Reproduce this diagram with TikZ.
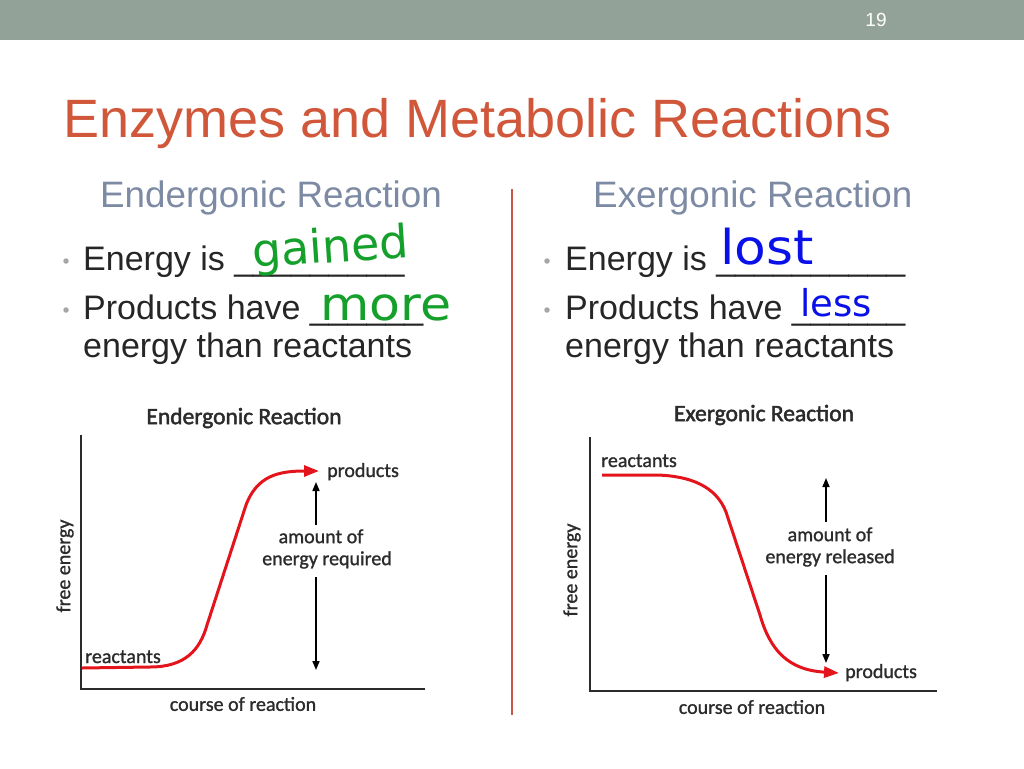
\documentclass[tikz,border=0pt]{standalone}
\usepackage{fontspec}
\setmainfont{Liberation Sans}
\newfontfamily\chartfont[FakeBold=1.2]{Carlito}
\newfontfamily\charttitlefont[FakeBold=2]{Carlito}
\newfontfamily\handfont{DejaVu Sans}
\usetikzlibrary{arrows.meta}
\definecolor{barcol}{HTML}{93A299}
\definecolor{titlecol}{HTML}{D0573A}
\definecolor{subcol}{HTML}{7D8AA3}
\definecolor{txtcol}{HTML}{262626}
\definecolor{bulcol}{HTML}{A6A6A6}
\definecolor{divcol}{HTML}{C8574A}
\definecolor{curvecol}{HTML}{E3141C}
\definecolor{chartcol}{HTML}{2B2B2B}
\definecolor{greenhand}{HTML}{14A02A}
\definecolor{bluehand}{HTML}{0A10E8}
\tikzset{
  titletext/.style={anchor=base west, inner sep=0pt, text=titlecol, font=\fontsize{54}{60}\selectfont},
  subtext/.style={anchor=base west, inner sep=0pt, text=subcol, font=\fontsize{36.8}{40}\selectfont},
  bullettext/.style={anchor=base west, inner sep=0pt, text=txtcol, font=\fontsize{34}{38}\selectfont},
  bulletdot/.style={circle, fill=bulcol, inner sep=0pt, minimum size=5.5pt},
  greenink/.style={anchor=base west, inner sep=0pt, text=greenhand, font=\handfont\fontsize{46}{50}\selectfont},
  blueink/.style={anchor=base west, inner sep=0pt, text=bluehand, font=\handfont\fontsize{48}{50}\selectfont},
  charttitle/.style={inner sep=0pt, text=chartcol, font=\charttitlefont\fontsize{23.5}{25}\selectfont},
  chartlabel/.style={inner sep=0pt, text=chartcol, font=\chartfont\fontsize{20}{21}\selectfont},
  axisline/.style={draw=chartcol, line width=2pt},
  reactcurve/.style={draw=curvecol, line width=3pt, -{Triangle[length=15pt,width=11pt]}},
  amtarrow/.style={draw=black, line width=1.6pt, -{Triangle[length=9pt,width=7pt]}},
}
\begin{document}
\begin{tikzpicture}[x=1pt,y=-1pt]
\useasboundingbox (0,0) rectangle (1024,768);
% header bar
\fill[barcol] (0,0) rectangle (1024,40);
\node[text=white, font=\fontsize{19}{20}\selectfont, inner sep=0pt] (pagenum) at (876,20) {19};
% title
\node[titletext] (title) at (63,137) {Enzymes and Metabolic Reactions};
% subheadings
\node[subtext] (endosub) at (100,207) {Endergonic Reaction};
\node[subtext] (exosub) at (593,207) {Exergonic Reaction};
% divider
\coordinate (divtop) at (512,189);
\coordinate (divbot) at (512,715);
\draw[divcol, line width=2pt] (divtop) -- (divbot);
% left bullets
\node[bulletdot] (lb1) at (66,261) {};
\node[bulletdot] (lb2) at (66,310) {};
\node[bullettext] (l1) at (83,270) {Energy is \_\_\_\_\_\_\_\_\_};
\node[bullettext] (l2) at (83,319) {Products have \_\_\_\_\_\_};
\node[bullettext] (l3) at (83,357) {energy than reactants};
\node[greenink, rotate=4] (gained) at (253,268) {gained};
\node[greenink, xscale=1.1] (more) at (320,320) {more};
% right bullets
\node[bulletdot] (rb1) at (547,261) {};
\node[bulletdot] (rb2) at (547,310) {};
\node[bullettext] (r1) at (565,270) {Energy is \_\_\_\_\_\_\_\_\_\_};
\node[bullettext] (r2) at (565,319) {Products have \_\_\_\_\_\_};
\node[bullettext] (r3) at (565,357) {energy than reactants};
\node[blueink, xscale=1.08] (lost) at (720,264) {lost};
\node[blueink, font=\handfont\fontsize{37}{40}\selectfont] (less) at (800,316) {less};
% ---------- Endergonic chart ----------
\node[charttitle] (ltitle) at (244,418) {Endergonic Reaction};
\coordinate (lytop) at (81,435);
\coordinate (lorig) at (81,689);
\coordinate (lxend) at (425,689);
\draw[axisline] (lytop) -- (lorig) -- (lxend);
\node[chartlabel, rotate=90] (lyl) at (65,566) {free energy};
\node[chartlabel] (lxl) at (243,704) {course of reaction};
\node[chartlabel, anchor=base west] (lreact) at (85,663) {reactants};
\node[chartlabel, anchor=base west] (lprod) at (327,477) {products};
\coordinate (lc0) at (82,668);
\coordinate (lc1) at (150,667);
\coordinate (lc2) at (207,625);
\coordinate (lc3) at (246,505);
\coordinate (lc4) at (319,471);
\draw[reactcurve] (lc0) -- (lc1) .. controls (185,667) and (200,650) .. (lc2) -- (lc3) .. controls (257,476) and (278,471) .. (lc4);
\node[chartlabel, align=center, font=\chartfont\fontsize{20}{22}\selectfont] (lamt) at (321,549) {amount of\\ \hspace*{0.6em}energy required};
\coordinate (lup0) at (316,525);
\coordinate (lup1) at (316,482);
\coordinate (ldn0) at (316,577);
\coordinate (ldn1) at (316,670);
\draw[amtarrow] (lup0) -- (lup1);
\draw[amtarrow] (ldn0) -- (ldn1);
% ---------- Exergonic chart ----------
\node[charttitle] (rtitle) at (764,415) {Exergonic Reaction};
\coordinate (rytop) at (590,437);
\coordinate (rorig) at (590,691);
\coordinate (rxend) at (937,691);
\draw[axisline] (rytop) -- (rorig) -- (rxend);
\node[chartlabel, rotate=90] (ryl) at (572,570) {free energy};
\node[chartlabel] (rxl) at (752,707) {course of reaction};
\node[chartlabel, anchor=base west] (rreact) at (601,467) {reactants};
\node[chartlabel, anchor=base west] (rprod) at (845,678) {products};
\coordinate (rc0) at (602,475);
\coordinate (rc1) at (657,475);
\coordinate (rc2) at (726,512);
\coordinate (rc3) at (760,615);
\coordinate (rc4) at (839,673);
\draw[reactcurve] (rc0) -- (rc1) .. controls (690,476) and (716,486) .. (rc2) -- (rc3) .. controls (770,650) and (788,670) .. (rc4);
\node[chartlabel, align=center, font=\chartfont\fontsize{20}{22}\selectfont] (ramt) at (830,547) {amount of\\energy released};
\coordinate (rup0) at (826,522);
\coordinate (rup1) at (826,478);
\coordinate (rdn0) at (826,575);
\coordinate (rdn1) at (826,663);
\draw[amtarrow] (rup0) -- (rup1);
\draw[amtarrow] (rdn0) -- (rdn1);
\end{tikzpicture}
\end{document}
